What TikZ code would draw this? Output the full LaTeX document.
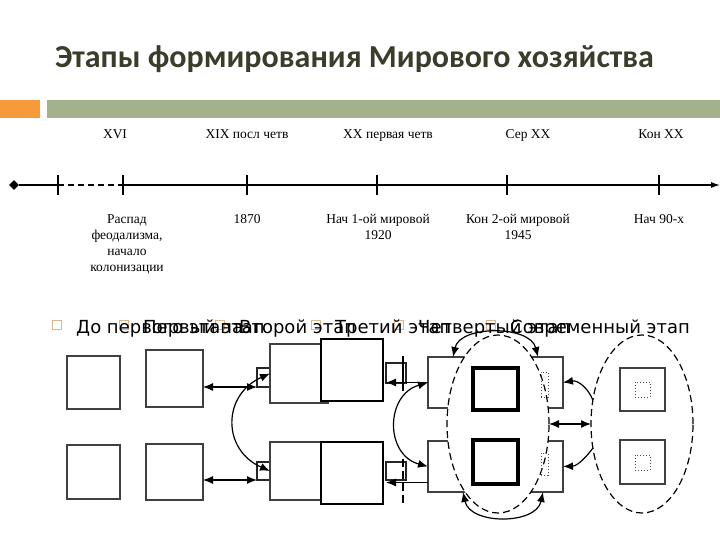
\documentclass[tikz,border=0pt]{standalone}
\usepackage{fontspec}
\setmainfont{Liberation Serif}
\newfontfamily\titlefont{Carlito}
\newfontfamily\sansru{DejaVu Sans}
\usetikzlibrary{arrows.meta,shapes.geometric,calc}
\definecolor{titlecol}{HTML}{3B3C2A}
\definecolor{barorange}{HTML}{F79A3B}
\definecolor{bargreen}{HTML}{A3B18C}
\definecolor{bulletcol}{HTML}{E2B48A}
\begin{document}
\begin{tikzpicture}[x=1pt,y=-1pt,
  >={Latex[length=10pt,width=8pt]},
  tl/.style={font=\fontsize{13.5}{16}\selectfont, inner sep=0pt, align=center},
  tlline/.style={line width=1.2pt, black},
  bul/.style={draw=bulletcol, line width=0.8pt, minimum size=9pt, inner sep=0pt},
  stage/.style={font=\sansru\fontsize{18}{20}\selectfont, inner sep=0pt, anchor=base west},
  thin/.style={draw=black!75, line width=1.3pt, fill=white, inner sep=0pt, outer sep=0pt},
  thickbox/.style={draw=black, line width=2.4pt, fill=white, inner sep=0pt, outer sep=0pt},
  heavy/.style={draw=black, line width=3.5pt, fill=white, inner sep=0pt, outer sep=0pt},
  stubbox/.style={draw=black!85, line width=1.8pt, fill=white, inner sep=0pt, outer sep=0pt},
  dotbox/.style={draw=black!70, dotted, line width=1pt, inner sep=0pt, outer sep=0pt},
  oval/.style={ellipse, draw=black, dash pattern=on 7pt off 4pt, line width=1.2pt, fill=white,
               minimum width=102pt, minimum height=178pt, inner sep=0pt, outer sep=0pt},
  con/.style={line width=1.2pt, black}
]
\useasboundingbox (0,0) rectangle (720,540);
\fill[white] (0,0) rectangle (720,540);

% title and header bars
\node[font=\titlefont\bfseries\fontsize{32}{36}\selectfont, text=titlecol, anchor=base west, inner sep=0pt] (title) at (55,68) {Этапы формирования Мирового хозяйства};
\fill[barorange] (0,100) rectangle (40,118);
\fill[bargreen] (47,100) rectangle (720,118);

% timeline
\node[diamond, fill=black, inner sep=0pt, minimum size=10pt] (d0) at (14,185) {};
\coordinate (k1) at (58,185);
\coordinate (k2) at (123,185);
\coordinate (k3) at (247,185);
\coordinate (k4) at (377,185);
\coordinate (k5) at (507,185);
\coordinate (k6) at (659,185);
\coordinate (tend) at (720,185);
\draw[tlline] (d0) -- (k1);
\draw[tlline, dash pattern=on 6pt off 4pt] (k1) -- (k2);
\draw[tlline, -{Latex[length=9pt,width=6pt]}] (k2) -- (tend);
\foreach \k in {k1,k2,k3,k4,k5,k6}
  \draw[tlline] ([yshift=10pt]\k) -- ([yshift=-10pt]\k);

\node[tl, anchor=base] (u1) at (115,139) {XVI};
\node[tl, anchor=base] (u2) at (247,139) {XIX посл четв};
\node[tl, anchor=base] (u3) at (388,139) {XX первая четв};
\node[tl, anchor=base] (u4) at (528,139) {Сер XX};
\node[tl, anchor=base] (u5) at (661,139) {Кон XX};

\node[tl, anchor=north] (l1) at (127,214) {Распад\\феодализма,\\начало\\колонизации};
\node[tl, anchor=north] (l2) at (247,214) {1870};
\node[tl, anchor=north] (l3) at (378,214) {Нач 1-ой мировой\\1920};
\node[tl, anchor=north] (l4) at (518,214) {Кон 2-ой мировой\\1945};
\node[tl, anchor=north] (l5) at (659,214) {Нач 90-х};

% stage headings (overlapping, as in the original)
\node[bul] (bu1) at (57,325) {};
\node[bul] (bu2) at (124,325) {};
\node[bul] (bu3) at (220,325) {};
\node[bul] (bu4) at (316,325) {};
\node[bul] (bu5) at (399,325) {};
\node[bul] (bu6) at (491,325) {};
\node[stage] (st1) at (76,333) {До первого этапа};
\node[stage] (st2) at (143,333) {Первый этап};
\node[stage] (st3) at (239,333) {Второй этап};
\node[stage] (st4) at (335,333) {Третий этап};
\node[stage] (st5) at (418,333) {Четвертый этап};
\node[stage] (st6) at (510,333) {Современный этап};

% column 1 and 2
\node[thin, minimum width=53pt, minimum height=53pt] (a1) at (93.5,382.5) {};
\node[thin, minimum width=53pt, minimum height=54pt] (a2) at (93.5,472) {};
\node[thin, minimum width=57pt, minimum height=57pt] (b1) at (174.5,378.5) {};
\node[thin, minimum width=57pt, minimum height=56pt] (b2) at (174.5,472) {};

% column 3
\node[stubbox, minimum width=13pt, minimum height=19pt] (s1) at (263.5,377.5) {};
\node[stubbox, minimum width=13pt, minimum height=18pt] (s2) at (263.5,471) {};
\node[thin, minimum width=58pt, minimum height=59pt] (c1) at (299,373.5) {};
\node[thin, minimum width=58pt, minimum height=58pt] (c2) at (299,471) {};
\node[thickbox, minimum width=62pt, minimum height=62pt] (d1) at (352,370) {};
\node[thickbox, minimum width=62pt, minimum height=62pt] (d2) at (352,473) {};
\draw[con, <->] (b1.east |- s1.south) -- (s1.south west);
\draw[con, <->] (b2.east |- s2.south) -- (s2.south west);
\draw[con, <->] (c1.west) .. controls (222,395) and (222,450) .. (c2.west);

\node[stubbox, minimum width=20pt, minimum height=20pt] (r1) at (396,373) {};
\node[stubbox, minimum width=20pt, minimum height=18pt] (r2) at (396,471) {};
\coordinate (v1a) at (403,356);
\coordinate (v1b) at (403,391);
\coordinate (v2a) at (403,459);
\coordinate (v2b) at (403,506);
\draw[line width=1.8pt] (v1a) -- (v1b);
\draw[line width=1.8pt, dash pattern=on 8pt off 4pt] (v2a) -- (v2b);

% column 4
\node[thin, minimum width=135pt, minimum height=51pt] (e1) at (495.5,382.5) {};
\node[thin, minimum width=135pt, minimum height=51pt] (e2) at (495.5,466.5) {};
\draw[con, ->] (e1.west) -- (e1.west -| r1.west);
\draw[con, ->] ([yshift=-16pt]e2.west) -- ([yshift=-16pt]e2.west -| r2.west);
\draw[con, <->] (e1.west) .. controls (385,395) and (385,455) .. (e2.west);

\node[oval] (o1) at (498,424) {};
\node[heavy, minimum width=45pt, minimum height=42pt] (h1) at (495.5,389) {};
\node[heavy, minimum width=45pt, minimum height=44pt] (h2) at (495.5,462) {};
\node[dotbox, minimum width=7pt, minimum height=25pt] (p1) at (544.5,384.5) {};
\node[dotbox, minimum width=7pt, minimum height=22pt] (p2) at (544.5,464) {};

% column 5
\node[oval] (o2) at (642,424) {};
\node[thin, minimum width=45pt, minimum height=43pt] (g1) at (642.5,389.5) {};
\node[thin, minimum width=45pt, minimum height=44pt] (g2) at (642.5,462) {};
\node[dotbox, minimum size=15pt] (q1) at (642.5,389.5) {};
\node[dotbox, minimum size=15pt] (q2) at (642.5,462.5) {};

% connectors around column 4
\draw[con, <->] ([xshift=25pt]e1.north west) .. controls (460,325) and (530,325) .. ([xshift=-25pt]e1.north east);
\draw[con, <->] ([xshift=35pt]e2.south west) .. controls (470,525) and (536,525) .. ([xshift=-20pt]e2.south east);
\draw[con, <->] (o1.east) -- (o2.west);
\draw[con, ->] (o2.154) .. controls (588,388) and (578,380) .. (e1.east);
\draw[con, ->] (o2.206) .. controls (588,455) and (578,466) .. (e2.east);
\end{tikzpicture}
\end{document}
